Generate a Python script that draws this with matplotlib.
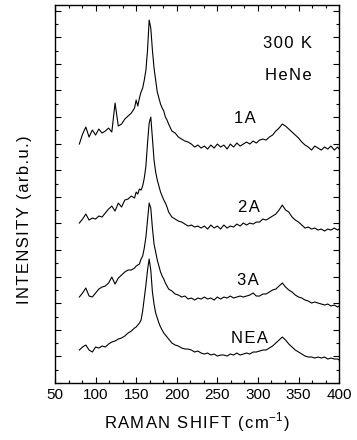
import numpy as np
import matplotlib
matplotlib.use("Agg")
import matplotlib.pyplot as plt
from matplotlib.ticker import MultipleLocator

plt.rcParams["font.family"] = ["Liberation Sans", "DejaVu Sans"]

# Raman shift grid (cm-1): coarse on the wings, finer across the main peak
shift = np.concatenate([np.arange(80, 150, 4), np.arange(150, 192, 2),
                        np.arange(194, 400, 4), [400]])

# intensities (arb. u.), already vertically offset as in the figure
int_1a = [239, 249, 256, 246, 253, 248, 254, 250, 252, 255, 251, 280, 257, 259, 264, 267, 270, 275,
          283, 277, 285, 291, 295, 303, 313, 333, 363, 355, 333, 315, 303, 291, 285, 279, 275, 272, 266, 263, 259,
          252, 250, 246, 244, 242, 241, 239, 236, 238, 235, 237, 234, 238, 235, 239, 236, 238, 234, 239, 236,
          240, 237, 239, 241, 239, 242, 240, 243, 244, 243, 246, 248, 252, 255, 259, 257, 254, 251, 248, 245,
          241, 238, 236, 233, 237, 235, 233, 236, 234, 237, 233, 236, 234]
int_2a = [160, 164, 169, 163, 165, 164, 167, 166, 170, 174, 177, 172, 180, 176, 183, 184, 187, 185,
          191, 189, 194, 193, 197, 205, 217, 240, 260, 266, 245, 223, 211, 203, 197, 191, 187, 183, 180, 176, 171,
          166, 164, 162, 161, 159, 157, 158, 156, 157, 155, 157, 154, 158, 155, 157, 154, 158, 155, 157, 156,
          159, 157, 160, 158, 160, 159, 161, 161, 164, 163, 165, 167, 169, 173, 178, 173, 171, 166, 163, 161,
          158, 155, 156, 154, 155, 153, 154, 152, 154, 153, 155, 153, 154]
int_3a = [86, 90, 95, 87, 86, 90, 94, 96, 97, 100, 106, 99, 105, 108, 111, 113, 113, 115,
          117, 118, 119, 124, 127, 135, 146, 163, 180, 175, 155, 139, 131, 123, 117, 111, 107, 104, 100, 97, 94,
          92, 89, 88, 86, 87, 84, 85, 83, 85, 84, 86, 84, 85, 83, 86, 84, 86, 85, 87, 85,
          86, 87, 86, 87, 88, 90, 87, 87, 89, 89, 91, 93, 94, 97, 100, 96, 93, 91, 88, 86,
          85, 83, 82, 80, 81, 80, 79, 78, 79, 77, 78, 76, 77]
int_nea = [33, 36, 38, 33, 31, 36, 35, 37, 36, 39, 41, 42, 44, 45, 47, 50, 52, 55,
           56, 58, 60, 63, 72, 85, 98, 113, 124, 113, 91, 79, 70, 65, 60, 56, 53, 50, 48, 46, 44,
           40, 38, 37, 35, 34, 34, 33, 31, 32, 30, 29, 30, 28, 29, 27, 28, 28, 27, 29, 28,
           30, 28, 29, 30, 29, 31, 31, 32, 33, 33, 35, 37, 40, 43, 46, 43, 39, 36, 33, 31,
           29, 27, 26, 26, 25, 26, 25, 26, 24, 25, 24, 24, 23]

spectra = [int_1a, int_2a, int_3a, int_nea]
labels = ["1A", "2A", "3A", "NEA"]
label_pos = [(284, 265), (289, 176), (288, 103), (290, 45)]

HS = "\u200a"  # hair space, to imitate the loose letter spacing


def spaced(s):
    return HS.join(s)


fig = plt.figure(figsize=(3.57, 4.40), dpi=100)
ax = fig.add_axes([0.154, 0.1295, 0.796, 0.859])

for y in spectra:
    ax.plot(shift, y, color="black", lw=0.8)

for lab, (lx, ly) in zip(labels, label_pos):
    ax.text(lx, ly, spaced(lab), fontsize=12, ha="center", va="center")
ax.text(336, 340, spaced("300 K"), fontsize=12, ha="center", va="center")
ax.text(337, 308, spaced("HeNe"), fontsize=12, ha="center", va="center")

ax.set_xlim(50, 400)
ax.set_ylim(0, 378)
ax.xaxis.set_major_locator(MultipleLocator(50))
ax.xaxis.set_minor_locator(MultipleLocator(50 / 3))
ax.yaxis.set_major_locator(MultipleLocator(26.6))
ax.yaxis.set_minor_locator(MultipleLocator(13.3))
ax.tick_params(which="both", direction="in", top=True, right=True, width=0.8)
ax.tick_params(which="major", length=4, labelsize=11)
ax.tick_params(which="minor", length=2.5)
ax.tick_params(axis="y", labelleft=False)
for s in ax.spines.values():
    s.set_linewidth(1.0)

ax.set_xlabel(spaced("RAMAN SHIFT (cm") + "$^{\\mathregular{-1}}$" + HS + ")",
              fontsize=12, labelpad=6)
ax.set_ylabel(spaced("INTENSITY (arb.u.)"), fontsize=12)
ax.yaxis.set_label_coords(-0.082, 0.431)

plt.savefig("out.png", dpi=100)
